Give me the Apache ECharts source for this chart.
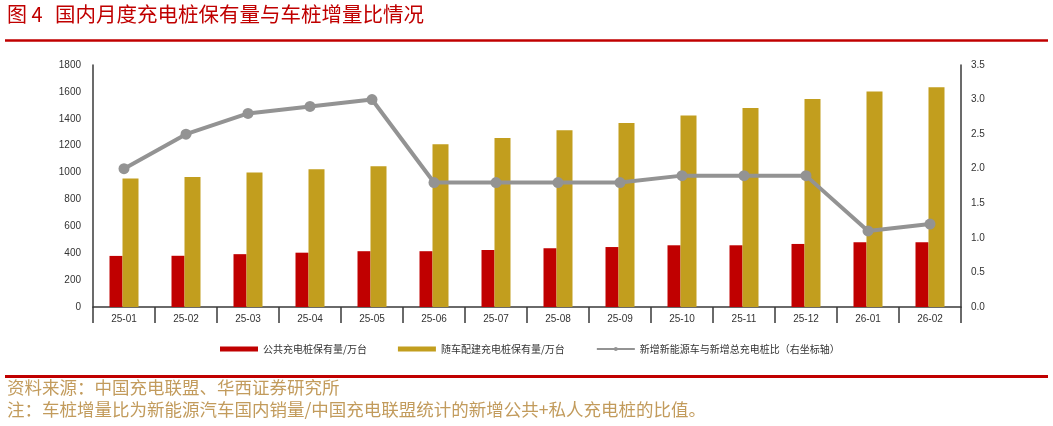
<!DOCTYPE html>
<html>
<head>
<meta charset="utf-8">
<script src="https://cdn.jsdelivr.net/npm/echarts@6/dist/echarts.min.js"></script>
<style>
html,body{margin:0;padding:0;background:#fff;}
#chart{width:1053px;height:426px;}
</style>
</head>
<body>
<div id="chart"></div>
<script>
var categories = ['25-01','25-02','25-03','25-04','25-05','25-06','25-07','25-08','25-09','25-10','25-11','25-12','26-01','26-02'];
var publicPiles = [380, 381, 393, 404, 415, 415, 424, 437, 446, 459, 459, 469, 481, 481];
var privatePiles = [955, 967, 1000, 1025, 1047, 1210, 1257, 1314, 1369, 1424, 1481, 1548, 1602, 1635];
var ratio = [2.0, 2.5, 2.8, 2.9, 3.0, 1.8, 1.8, 1.8, 1.8, 1.9, 1.9, 1.9, 1.1, 1.2];
var seriesNames = ['公共充电桩保有量/万台', '随车配建充电桩保有量/万台', '新增新能源车与新增总充电桩比（右坐标轴）'];
var titleNo = '图 4';
var titleText = '国内月度充电桩保有量与车桩增量比情况';
var sourceText = '资料来源：中国充电联盟、华西证券研究所';
var noteText = '注：车桩增量比为新能源汽车国内销量/中国充电联盟统计的新增公共+私人充电桩的比值。';

var FONT = "'Liberation Sans', 'Noto Sans CJK SC', sans-serif";
var CJK = "'Noto Sans CJK SC', sans-serif";
var RED = '#c00000', GOLD = '#c29e1e', GRAY = '#939393', AXIS = '#3a3a3a', FOOT = '#c29b5c';

var chart = echarts.init(document.getElementById('chart'));
chart.setOption({
  backgroundColor: '#fff',
  animation: false,
  textStyle: { fontFamily: FONT },
  grid: { left: 93, right: 92, top: 65, bottom: 119 },
  legend: {
    left: 215, top: 339,
    itemWidth: 38, itemHeight: 5, itemGap: 31,
    textStyle: { fontSize: 10, color: '#333', fontFamily: CJK },
    data: [
      { name: seriesNames[0], icon: 'rect' },
      { name: seriesNames[1], icon: 'rect' },
      { name: seriesNames[2] }
    ]
  },
  xAxis: {
    type: 'category',
    data: categories,
    axisLine: { lineStyle: { color: AXIS, width: 1.5 } },
    axisTick: { show: true, length: 16, lineStyle: { color: AXIS, width: 1.5 } },
    axisLabel: { fontSize: 10, color: '#333', margin: 7 }
  },
  yAxis: [
    {
      type: 'value', min: 0, max: 1800, interval: 200,
      axisLine: { show: true, lineStyle: { color: AXIS, width: 1.5 } },
      axisTick: { show: false },
      splitLine: { show: false },
      axisLabel: { fontSize: 10, color: '#333', margin: 12, formatter: function (v) { return String(v); } }
    },
    {
      type: 'value', min: 0, max: 3.5, interval: 0.5,
      axisLine: { show: true, lineStyle: { color: AXIS, width: 1.5 } },
      axisTick: { show: false },
      splitLine: { show: false },
      axisLabel: { fontSize: 10, color: '#333', margin: 10, formatter: function (v) { return v.toFixed(1); } }
    }
  ],
  series: [
    {
      name: seriesNames[0], type: 'bar', yAxisIndex: 0,
      data: publicPiles, barWidth: 13, barGap: '0%',
      itemStyle: { color: RED }
    },
    {
      name: seriesNames[1], type: 'bar', yAxisIndex: 0,
      data: privatePiles, barWidth: 16, barGap: '0%',
      itemStyle: { color: GOLD }
    },
    {
      name: seriesNames[2], type: 'line', yAxisIndex: 1,
      data: ratio, symbol: 'circle', symbolSize: 11,
      lineStyle: { color: GRAY, width: 4 },
      itemStyle: { color: GRAY }
    }
  ],
  graphic: [
    { type: 'text', left: 7, top: 4, style: { text: titleNo, fontSize: 20, fill: RED, fontFamily: CJK } },
    { type: 'text', left: 55, top: 4, style: { text: titleText, fontSize: 20.5, fill: RED, fontFamily: CJK } },
    { type: 'line', shape: { x1: 5, y1: 40.5, x2: 1048, y2: 40.5 }, style: { stroke: RED, lineWidth: 2.5 } },
    { type: 'line', shape: { x1: 5, y1: 376.5, x2: 1048, y2: 376.5 }, style: { stroke: RED, lineWidth: 3 } },
    { type: 'text', left: 7, top: 379, style: { text: sourceText, fontSize: 17.5, fill: FOOT, fontFamily: CJK } },
    { type: 'text', left: 7, top: 401, style: { text: noteText, fontSize: 17.5, fill: FOOT, fontFamily: CJK } }
  ]
});
</script>
</body>
</html>
